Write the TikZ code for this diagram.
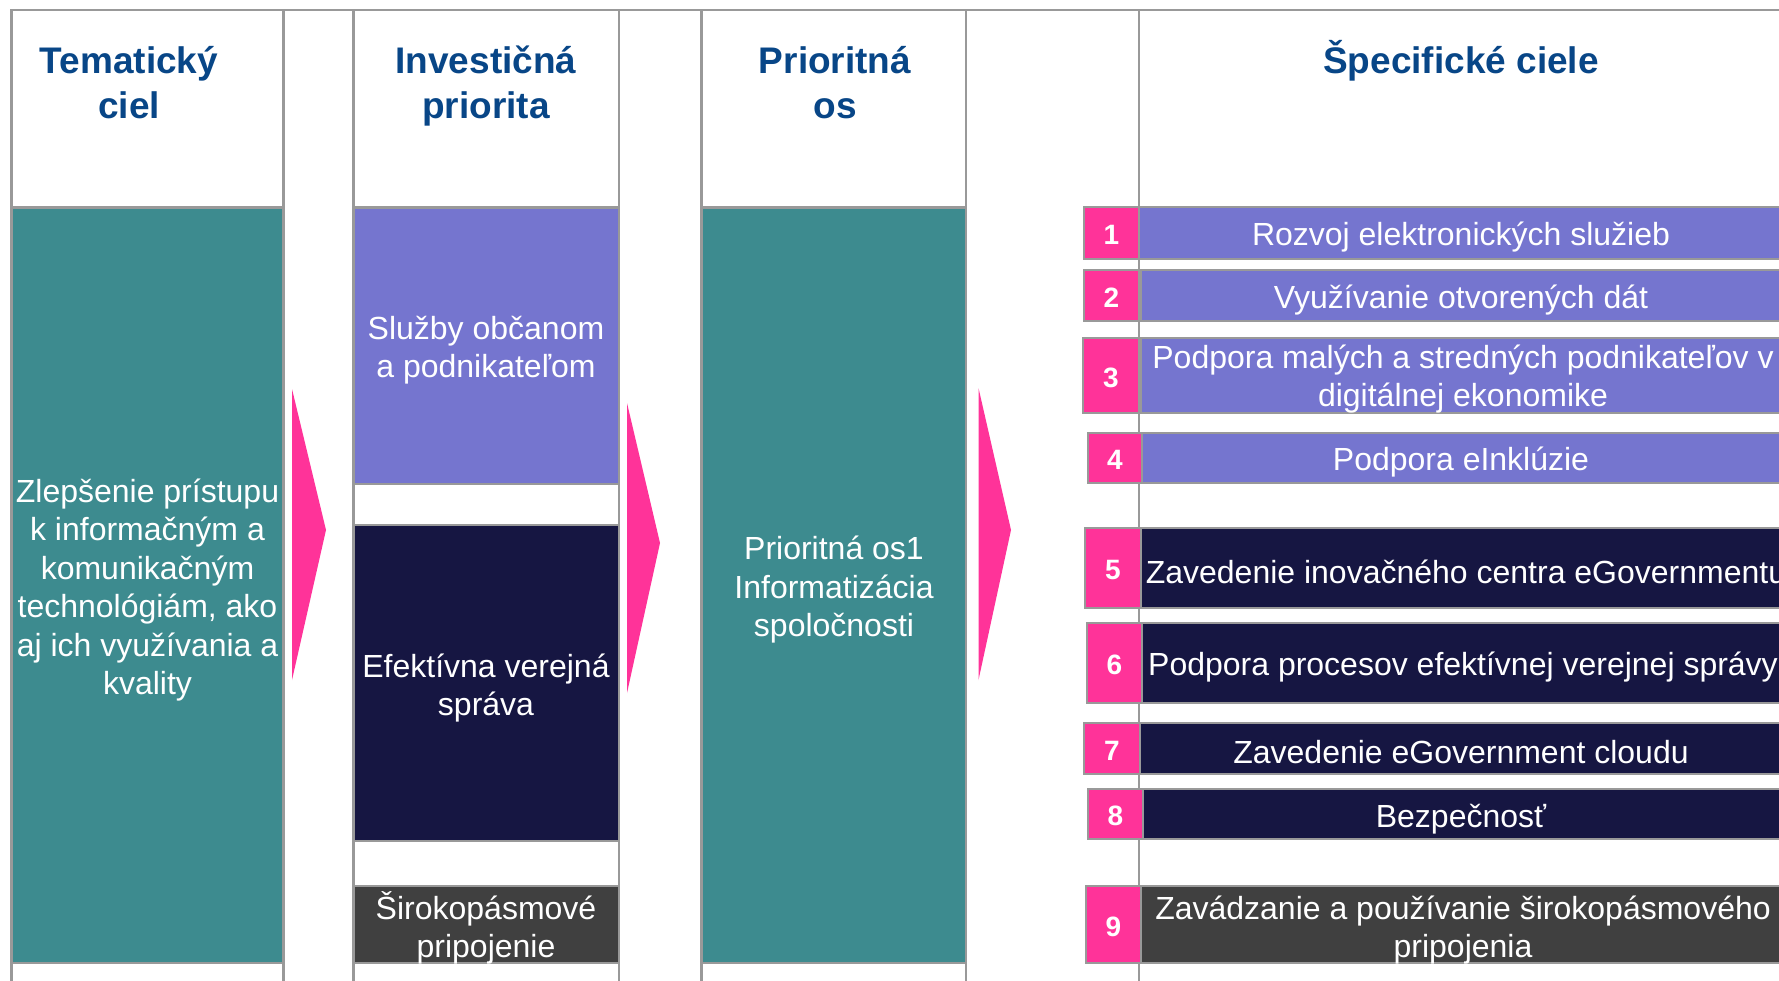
\documentclass[tikz,border=0pt]{standalone}
\usepackage{fontspec}
\setmainfont{Liberation Sans}
\definecolor{linegray}{RGB}{153,153,153}
\definecolor{tealc}{RGB}{61,139,143}
\definecolor{purp}{RGB}{117,117,207}
\definecolor{navy}{RGB}{22,22,66}
\definecolor{darkg}{RGB}{64,64,64}
\definecolor{pinkc}{RGB}{255,51,153}
\definecolor{headblue}{RGB}{8,70,135}
\begin{document}
\begin{tikzpicture}[x=1pt,y=-1pt,
  grid/.style={draw=linegray, line width=2.7pt},
  cell/.style={grid, inner sep=0pt, outer sep=0pt, anchor=north west},
  head/.style={text=headblue, font=\fontsize{37}{45}\selectfont\bfseries, anchor=base, inner sep=0pt},
  body/.style={text=white, font=\fontsize{32}{38.5}\selectfont, align=center, inner sep=0pt},
  num/.style={text=white, font=\fontsize{28}{30}\selectfont\bfseries, inner sep=0pt},
  tri/.style={fill=pinkc, draw=none}]
\useasboundingbox (0,0) rectangle (1779,981);
\fill[white] (0,0) rectangle (1779,981);
% grid lines
\draw[grid] (11.5,995) -- (11.5,10) -- (1795,10);
\foreach \gx in {283.5,353.5,619,701.5,966,1139}
  \draw[grid] (\gx,10) -- (\gx,995);
\draw[grid] (11.5,207.5) -- (283.5,207.5);
\draw[grid] (353.5,207.5) -- (619,207.5);
\draw[grid] (701.5,207.5) -- (966,207.5);
% headers
\node[head] (h1a) at (129,74) {Tematický};
\node[head] (h1b) at (129,119) {ciel};
\node[head] (h2a) at (486,74) {Investičná};
\node[head] (h2b) at (486,119) {priorita};
\node[head] (h3a) at (835,74) {Prioritná};
\node[head] (h3b) at (835,119) {os};
\node[head] (h4a) at (1461,74) {Špecifické ciele};
% column 1
\node[cell, fill=tealc, minimum width=272pt, minimum height=755.5pt] (tc) at (11.5,207.5) {};
\node[body] (tct) at (147.5,590) {Zlepšenie prístupu\\k informačným a\\komunikačným\\technológiám, ako\\aj ich využívania a\\kvality};
% column 3
\node[cell, fill=purp, minimum width=265.5pt, minimum height=276.5pt] (ip1) at (353.5,207.5) {};
\node[body] (ip1t) at (486,350) {Služby občanom\\a podnikateľom};
\node[cell, fill=navy, minimum width=265.5pt, minimum height=316pt] (ip2) at (353.5,525) {};
\node[body] (ip2t) at (486,688) {Efektívna verejná\\správa};
\node[cell, fill=darkg, minimum width=265.5pt, minimum height=77pt] (ip3) at (353.5,886) {};
\node[body] (ip3t) at (486,928) {Širokopásmové\\pripojenie};
% column 5
\node[cell, fill=tealc, minimum width=264.5pt, minimum height=755.5pt] (po) at (701.5,207.5) {};
\node[body] (pot) at (834,590) {Prioritná os1\\Informatizácia\\spoločnosti};
% arrows
\fill[tri] (292,389) -- (326,530) -- (292,680) -- cycle;
\fill[tri] (627,403) -- (660,543) -- (627,693) -- cycle;
\fill[tri] (978.5,388) -- (1011,530) -- (978.5,680) -- cycle;
% rows
\node[cell, fill=purp, minimum width=660pt, minimum height=52pt] (r1) at (1139,207) {};
\node[cell, fill=pinkc, minimum width=55pt, minimum height=52pt] (n1) at (1084,207) {};
\node[num] (n1t) at ([yshift=-2pt]n1.center) {1};
\node[body] (r1t) at (1461,237) {Rozvoj elektronických služieb};

\node[cell, fill=purp, minimum width=660pt, minimum height=51pt] (r2) at (1140.5,270) {};
\node[cell, fill=pinkc, minimum width=55pt, minimum height=51pt] (n2) at (1084,270) {};
\node[num] (n2t) at ([yshift=-2pt]n2.center) {2};
\node[body] (r2t) at (1461,300) {Využívanie otvorených dát};

\node[cell, fill=purp, minimum width=660pt, minimum height=75pt] (r3) at (1140.5,338) {};
\node[cell, fill=pinkc, minimum width=56pt, minimum height=75pt] (n3) at (1083,338) {};
\node[num] (n3t) at ([yshift=-2pt]n3.center) {3};
\node[body] (r3t) at (1463,379) {Podpora malých a stredných podnikateľov v\\digitálnej ekonomike};

\node[cell, fill=purp, minimum width=660pt, minimum height=50pt] (r4) at (1142,433) {};
\node[cell, fill=pinkc, minimum width=54pt, minimum height=50pt] (n4) at (1088,433) {};
\node[num] (n4t) at ([yshift=-2pt]n4.center) {4};
\node[body] (r4t) at (1461,462) {Podpora eInklúzie};

\node[cell, fill=navy, minimum width=660pt, minimum height=80pt] (r5) at (1141,528) {};
\node[cell, fill=pinkc, minimum width=56pt, minimum height=80pt] (n5) at (1085,528) {};
\node[num] (n5t) at ([yshift=-2pt]n5.center) {5};
\node[body] (r5t) at (1466,572) {Zavedenie inovačného centra eGovernmentu};

\node[cell, fill=navy, minimum width=660pt, minimum height=80pt] (r6) at (1142,623) {};
\node[cell, fill=pinkc, minimum width=55pt, minimum height=80pt] (n6) at (1087,623) {};
\node[num] (n6t) at ([yshift=-2pt]n6.center) {6};
\node[body] (r6t) at (1463,667) {Podpora procesov efektívnej verejnej správy};

\node[cell, fill=navy, minimum width=660pt, minimum height=51pt] (r7) at (1140,723) {};
\node[cell, fill=pinkc, minimum width=56pt, minimum height=51pt] (n7) at (1084,723) {};
\node[num] (n7t) at ([yshift=-2pt]n7.center) {7};
\node[body] (r7t) at (1461,752) {Zavedenie eGovernment cloudu};

\node[cell, fill=navy, minimum width=660pt, minimum height=50pt] (r8) at (1143,789) {};
\node[cell, fill=pinkc, minimum width=55pt, minimum height=50pt] (n8) at (1088,789) {};
\node[num] (n8t) at ([yshift=-2pt]n8.center) {8};
\node[body] (r8t) at (1461,819) {Bezpečnosť};

\node[cell, fill=darkg, minimum width=660pt, minimum height=77pt] (r9) at (1141,886) {};
\node[cell, fill=pinkc, minimum width=55pt, minimum height=77pt] (n9) at (1086,886) {};
\node[num] (n9t) at ([yshift=-2pt]n9.center) {9};
\node[body] (r9t) at (1463,930) {Zavádzanie a používanie širokopásmového\\pripojenia};
\end{tikzpicture}
\end{document}
